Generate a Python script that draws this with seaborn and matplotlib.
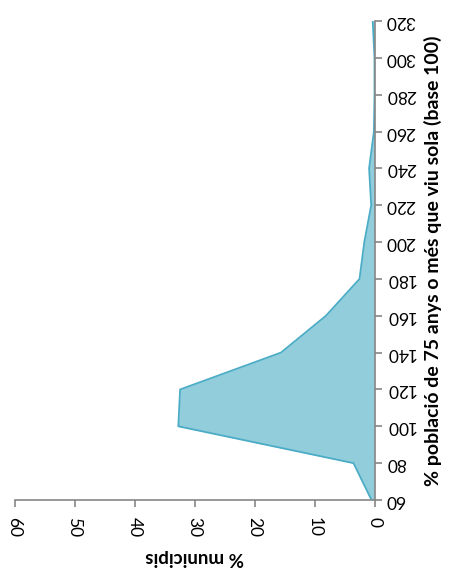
import matplotlib
matplotlib.use('Agg')
import matplotlib.pyplot as plt
import seaborn as sns
import pandas as pd

# Values
categories = [60, 80, 100, 120, 140, 160, 180, 200, 220, 240, 260, 280, 300, 320]
pct_municipis = [0.5, 3.5, 32.7, 32.4, 15.6, 8.1, 2.5, 1.7, 0.55, 0.9, 0.1, 0.0, 0.0, 0.3]
value_ticks = [0, 10, 20, 30, 40, 50, 60]

df = pd.DataFrame({'base': categories, 'pct': pct_municipis})

sns.set_style('white')
plt.rcParams['font.family'] = ['Lato', 'DejaVu Sans']

fill_color = '#92CDDC'
line_color = '#4BACC6'
axis_color = '#868686'

fig = plt.figure(figsize=(4.49, 5.70), dpi=100)
ax = fig.add_axes([14.5 / 449, 70 / 570, 360 / 449, 479 / 570])

# area, drawn sideways: categories on the vertical axis, values growing to the left
ax.fill_betweenx(df['base'], 0, df['pct'], color=fill_color, linewidth=0, zorder=1)
sns.lineplot(data=df, x='pct', y='base', orient='y', sort=False, color=line_color,
             linewidth=1.3, ax=ax, zorder=2)

ax.set_xlim(60, 0)
ax.set_ylim(60, 320)
ax.set_xticks(value_ticks)
ax.set_yticks(categories)

ax.yaxis.tick_right()
ax.yaxis.set_label_position('right')
for side in ['left', 'top']:
    ax.spines[side].set_visible(False)
for side in ['right', 'bottom']:
    ax.spines[side].set_color(axis_color)
    ax.spines[side].set_linewidth(1.2)

ax.tick_params(axis='both', which='major', direction='out', length=5, width=1.2,
               color=axis_color, labelsize=12.5, labelcolor='black')
ax.tick_params(axis='x', bottom=True, pad=7)
ax.tick_params(axis='y', right=True, left=False, pad=3)

for lbl in ax.get_xticklabels():
    lbl.set_rotation(-90)
for lbl in ax.get_yticklabels():
    lbl.set_rotation(180)
    lbl.set_va('center')

ax.set_xlabel('% municipis', fontsize=13.5, fontweight='bold', rotation=180,
              labelpad=9, color='black')
ax.set_ylabel('% població de 75 anys o més que viu sola (base 100)', fontsize=14,
              fontweight='bold', rotation=90, labelpad=6, color='black')

fig.savefig('out.png', dpi=100)
